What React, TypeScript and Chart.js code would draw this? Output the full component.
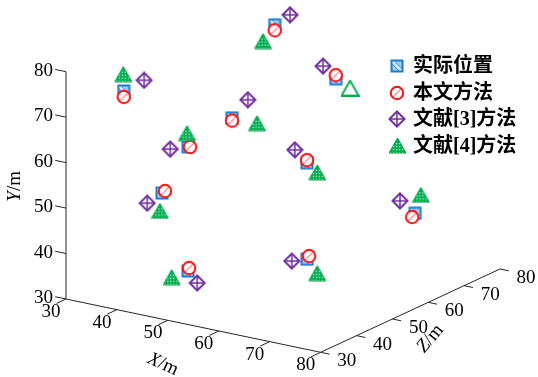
import React, { useEffect, useRef } from 'react';
import { Chart, registerables } from 'chart.js';

Chart.register(...registerables);

const W = 538;
const H = 377;

// Axis ticks (metres)
const xTicks = [30, 40, 50, 60, 70, 80];
const yTicks = [30, 40, 50, 60, 70, 80];
const zTicks = [30, 40, 50, 60, 70, 80];

const seriesNames = ['实际位置', '本文方法', '文献[3]方法', '文献[4]方法'];

// 实际位置 (actual positions)
const actualX = [39.3, 34.3, 54.8, 45.0, 43.4, 56.2, 41.8, 43.4, 56.2, 70.4];
const actualY = [76.0, 73.1, 69.6, 64.2, 61.1, 55.1, 52.4, 33.8, 33.9, 43.7];
const actualZ = [75, 40, 70, 55, 45, 60, 40, 45, 60, 70];

// 本文方法
const oursX = [39.3, 34.3, 54.8, 45.0, 43.8, 56.2, 42.4, 43.6, 56.6, 69.8];
const oursY = [74.8, 71.8, 70.4, 63.6, 61.2, 55.7, 53.0, 34.5, 34.7, 42.7];
const oursZ = [75, 40, 70, 55, 45, 60, 40, 45, 60, 70];

// 文献[3]方法
const ref3X = [42.3, 38.3, 52.3, 48.1, 39.9, 53.8, 38.9, 45.2, 53.2, 67.4];
const ref3Y = [78.9, 76.4, 71.8, 68.9, 59.8, 57.4, 49.5, 31.6, 32.8, 45.7];
const ref3Z = [75, 40, 70, 55, 45, 60, 40, 45, 60, 70];

// 文献[4]方法
const ref4X = [37.0, 34.2, 57.6, 49.9, 43.2, 58.2, 41.4, 40.2, 58.2, 71.5];
const ref4Y = [71.9, 76.8, 68.2, 64.2, 64.1, 53.5, 48.4, 31.7, 31.3, 48.0];
const ref4Z = [75, 40, 70, 55, 45, 60, 40, 45, 60, 70];

// ---- view (orthographic projection of the 3D box onto the canvas) ----
const AX_MIN = 30;
const VIEW = {
  ou: 66, ov: 299,          // screen position of (30,30,30)
  xu: 5.094, xv: 1.066,     // per metre along X
  zu: 3.586, zv: -1.666,    // per metre along Z
  yv: -4.546,               // per metre along Y
};

function proj(x: number, y: number, z: number) {
  return {
    u: VIEW.ou + (x - AX_MIN) * VIEW.xu + (z - AX_MIN) * VIEW.zu,
    v: VIEW.ov + (x - AX_MIN) * VIEW.xv + (z - AX_MIN) * VIEW.zv + (y - AX_MIN) * VIEW.yv,
  };
}

function toPoints(xs: number[], ys: number[], zs: number[]) {
  return xs.map((x, i) => {
    const p = proj(x, ys[i], zs[i]);
    return { x: p.u, y: p.v };
  });
}

// ---- marker images ----
function mk(w: number, h: number) {
  const c = document.createElement('canvas');
  c.width = w;
  c.height = h;
  return c;
}

function squareMarker() {
  const c = mk(14, 14);
  const g = c.getContext('2d')!;
  g.fillStyle = '#9fcdf2';
  g.fillRect(1.5, 1.5, 11, 11);
  g.save();
  g.beginPath();
  g.rect(1.5, 1.5, 11, 11);
  g.clip();
  g.strokeStyle = '#ffffff';
  g.lineWidth = 1.5;
  g.beginPath();
  g.moveTo(2, 2);
  g.lineTo(12, 12);
  g.stroke();
  g.strokeStyle = '#4a9ae0';
  g.lineWidth = 1;
  g.beginPath();
  g.moveTo(4, 2);
  g.lineTo(12, 10);
  g.moveTo(2, 5);
  g.lineTo(9, 12);
  g.stroke();
  g.restore();
  g.strokeStyle = '#1c7cd0';
  g.lineWidth = 2;
  g.strokeRect(1.5, 1.5, 11, 11);
  return c;
}

function circleMarker() {
  const c = mk(16, 16);
  const g = c.getContext('2d')!;
  g.beginPath();
  g.arc(8, 8, 6.2, 0, Math.PI * 2);
  g.fillStyle = '#ffffff';
  g.fill();
  g.save();
  g.clip();
  g.strokeStyle = '#f39a9a';
  g.lineWidth = 1.5;
  g.beginPath();
  g.moveTo(4, 12);
  g.lineTo(12, 4);
  g.stroke();
  g.restore();
  g.beginPath();
  g.arc(8, 8, 6.2, 0, Math.PI * 2);
  g.strokeStyle = '#ff1010';
  g.lineWidth = 2;
  g.stroke();
  return c;
}

function diamondMarker() {
  const c = mk(18, 18);
  const g = c.getContext('2d')!;
  g.beginPath();
  g.moveTo(9, 1.5);
  g.lineTo(16.5, 9);
  g.lineTo(9, 16.5);
  g.lineTo(1.5, 9);
  g.closePath();
  g.fillStyle = '#ffffff';
  g.fill();
  g.strokeStyle = '#7030a0';
  g.lineWidth = 2;
  g.stroke();
  g.lineWidth = 1.5;
  g.beginPath();
  g.moveTo(9, 2);
  g.lineTo(9, 16);
  g.moveTo(2, 9);
  g.lineTo(16, 9);
  g.stroke();
  return c;
}

function triangleMarker(hollow: boolean) {
  const c = mk(19, 17);
  const g = c.getContext('2d')!;
  const path = () => {
    g.beginPath();
    g.moveTo(9.5, 1);
    g.lineTo(18, 16);
    g.lineTo(1, 16);
    g.closePath();
  };
  path();
  if (hollow) {
    g.fillStyle = '#ffffff';
    g.fill();
    g.strokeStyle = '#00b050';
    g.lineWidth = 2;
    g.stroke();
    return c;
  }
  g.fillStyle = '#00b050';
  g.fill();
  g.save();
  path();
  g.clip();
  g.fillStyle = '#d8f5e2';
  for (let yy = 6; yy < 16; yy += 3) {
    for (let xx = 2; xx < 18; xx += 3) {
      g.fillRect(xx, yy, 1.2, 1.2);
    }
  }
  g.restore();
  path();
  g.strokeStyle = '#00a048';
  g.lineWidth = 1;
  g.stroke();
  return c;
}

export default function App() {
  const canvasRef = useRef<HTMLCanvasElement | null>(null);

  useEffect(() => {
    const canvas = canvasRef.current;
    if (!canvas) return;

    const sq = squareMarker();
    const ci = circleMarker();
    const di = diamondMarker();
    const tr = triangleMarker(false);
    const trH = triangleMarker(true);
    const legendIcons = [sq, ci, di, tr];

    const axisColor = '#262626';
    const tickFont = "19px 'Liberation Serif', 'Times New Roman', serif";

    const axesPlugin = {
      id: 'axes3d',
      beforeDatasetsDraw(chart: any) {
        const ctx = chart.ctx as CanvasRenderingContext2D;
        const sx = chart.scales.x;
        const sy = chart.scales.y;
        const P = (x: number, y: number, z: number) => {
          const p = proj(x, y, z);
          return [sx.getPixelForValue(p.u), sy.getPixelForValue(p.v)];
        };
        ctx.save();
        ctx.strokeStyle = axisColor;
        ctx.lineWidth = 1;
        const line = (a: number[], b: number[]) => {
          ctx.beginPath();
          ctx.moveTo(a[0], a[1]);
          ctx.lineTo(b[0], b[1]);
          ctx.stroke();
        };
        const xMax = xTicks[xTicks.length - 1];
        const yMax = yTicks[yTicks.length - 1];
        const zMax = zTicks[zTicks.length - 1];
        // axis lines
        line(P(30, 30, 30), P(30, yMax, 30));
        line(P(30, 30, 30), P(xMax, 30, 30));
        line(P(xMax, 30, 30), P(xMax, 30, zMax));

        // unit directions on screen
        const nz = Math.hypot(VIEW.zu, VIEW.zv);
        const nx = Math.hypot(VIEW.xu, VIEW.xv);
        const dz = [VIEW.zu / nz, VIEW.zv / nz];
        const dx = [VIEW.xu / nx, VIEW.xv / nx];

        ctx.fillStyle = '#000';
        ctx.font = tickFont;

        // X ticks (point toward -Z)
        xTicks.forEach((t) => {
          const a = P(t, 30, 30);
          line(a, [a[0] - dz[0] * 10.5, a[1] - dz[1] * 10.5]);
          ctx.textAlign = 'center';
          ctx.textBaseline = 'middle';
          ctx.fillText(String(t), a[0] - 15, a[1] + 13);
        });
        // Z ticks (point toward +X)
        zTicks.forEach((t) => {
          const a = P(xMax, 30, t);
          line(a, [a[0] + dx[0] * 9, a[1] + dx[1] * 9]);
          ctx.textAlign = 'center';
          ctx.textBaseline = 'middle';
          ctx.fillText(String(t), a[0] + 26, a[1] + 9);
        });
        // Y ticks (point toward -X)
        yTicks.forEach((t) => {
          const a = P(30, t, 30);
          line(a, [a[0] - dx[0] * 11, a[1] - dx[1] * 11]);
          ctx.textAlign = 'right';
          ctx.textBaseline = 'middle';
          ctx.fillText(String(t), a[0] - 13, a[1] - 1);
        });

        // axis titles
        const title = (letter: string, cx: number, cy: number, rot: number) => {
          ctx.save();
          ctx.translate(cx, cy);
          ctx.rotate(rot);
          ctx.textBaseline = 'middle';
          ctx.textAlign = 'left';
          const fi = "italic 19px 'Liberation Serif', serif";
          ctx.font = fi;
          const w1 = ctx.measureText(letter).width;
          ctx.font = tickFont;
          const w2 = ctx.measureText('/m').width;
          const x0 = -(w1 + w2) / 2;
          ctx.font = fi;
          ctx.fillText(letter, x0, 0);
          ctx.font = tickFont;
          ctx.fillText('/m', x0 + w1, 0);
          ctx.restore();
        };
        const ym = P(30, 55, 30);
        title('Y', ym[0] - 51, ym[1] + 1, -Math.PI / 2);
        const xm = P(50, 30, 30);
        title('X', xm[0] - 5, xm[1] + 44, (25 * Math.PI) / 180);
        const zm = P(xMax, 30, 55);
        title('Z', zm[0] + 20, zm[1] + 28, (-50 * Math.PI) / 180);

        ctx.restore();
      },
      afterDraw(chart: any) {
        const ctx = chart.ctx as CanvasRenderingContext2D;
        ctx.save();
        ctx.font = "bold 20px 'Liberation Serif', 'Noto Sans CJK SC', serif";
        ctx.fillStyle = '#000';
        ctx.textAlign = 'left';
        ctx.textBaseline = 'middle';
        const lx = 397;
        const ly0 = 66;
        const step = 26.5;
        seriesNames.forEach((name, i) => {
          const y = ly0 + i * step;
          const img = legendIcons[i];
          ctx.drawImage(img, Math.round(lx - img.width / 2), Math.round(y - img.height / 2));
          ctx.fillText(name, 413, y + 1);
        });
        ctx.restore();
      },
    };

    const ref4Styles = ref4X.map((_, i) => (i === 2 ? trH : tr));

    const chart = new Chart(canvas, {
      type: 'scatter',
      data: {
        datasets: [
          { label: seriesNames[0], data: toPoints(actualX, actualY, actualZ), pointStyle: sq as any, pointRadius: 7, order: 3 },
          { label: seriesNames[1], data: toPoints(oursX, oursY, oursZ), pointStyle: ci as any, pointRadius: 7, order: 2 },
          { label: seriesNames[2], data: toPoints(ref3X, ref3Y, ref3Z), pointStyle: di as any, pointRadius: 8, order: 1 },
          { label: seriesNames[3], data: toPoints(ref4X, ref4Y, ref4Z), pointStyle: ref4Styles as any, pointRadius: 8, order: 0 },
        ],
      },
      options: {
        responsive: false,
        animation: false,
        devicePixelRatio: 1,
        layout: { padding: 0, autoPadding: false },
        scales: {
          x: { type: 'linear', min: 0, max: W, display: false },
          y: { type: 'linear', min: 0, max: H, reverse: true, display: false },
        },
        plugins: {
          legend: { display: false },
          tooltip: { enabled: false },
        },
        events: [],
      },
      plugins: [axesPlugin],
    });

    return () => chart.destroy();
  }, []);

  return (
    <div style={{ position: 'absolute', left: 0, top: 0, width: W, height: H, background: '#fff' }}>
      <canvas ref={canvasRef} width={W} height={H} style={{ width: W, height: H, display: 'block' }} />
    </div>
  );
}
